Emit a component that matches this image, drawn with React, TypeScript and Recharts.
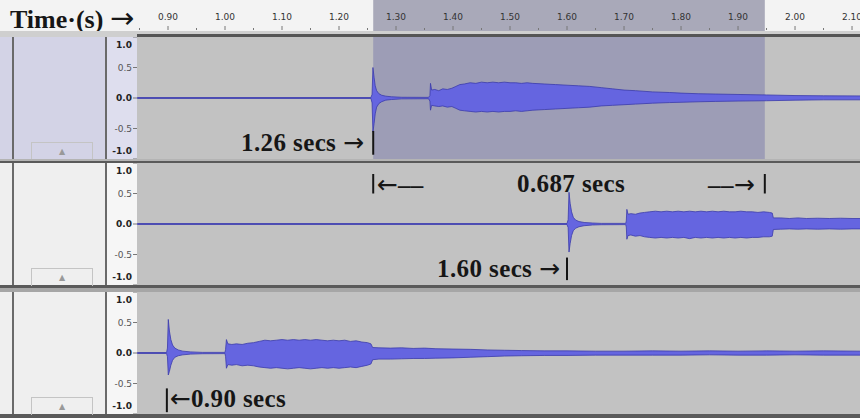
import { ComposedChart, Area, XAxis, YAxis, ReferenceArea, ReferenceLine } from 'recharts';

// visible time window of the screenshot (seconds)
const T_MIN = 0.8456;
const T_MAX = 2.114;

const rulerTicks = [
  0.85, 0.9, 0.95, 1.0, 1.05, 1.1, 1.15, 1.2, 1.25, 1.3, 1.35, 1.4, 1.45, 1.5, 1.55,
  1.6, 1.65, 1.7, 1.75, 1.8, 1.85, 1.9, 1.95, 2.0, 2.05, 2.1,
];
const ampTicks = [-1, -0.5, 0, 0.5, 1];

// selected region on the top track: 1.26 s .. 1.947 s (0.687 s)
const selection = [1.26, 1.947];

// waveform envelopes: [time, upper peak, lower peak]
const track1Envelope: [number, number, number][] = [
  [0.846, 0.008, -0.008], [1.256, 0.008, -0.008], [1.258, 0.06, -0.08], [1.2595, 0.5, -0.56],
  [1.2615, 0.34, -0.42], [1.2635, 0.2, -0.26], [1.266, 0.12, -0.15], [1.27, 0.07, -0.09],
  [1.275, 0.045, -0.06], [1.282, 0.03, -0.035], [1.292, 0.02, -0.025], [1.31, 0.012, -0.014],
  [1.357, 0.01, -0.012], [1.3595, 0.04, -0.05], [1.3605, 0.24, -0.2], [1.3625, 0.13, -0.12],
  [1.368, 0.14, -0.13], [1.375, 0.12, -0.14], [1.382, 0.15, -0.13], [1.39, 0.14, -0.15],
  [1.398, 0.16, -0.14], [1.405, 0.19, -0.17], [1.412, 0.22, -0.2], [1.42, 0.23, -0.21],
  [1.43, 0.25, -0.22], [1.44, 0.24, -0.23], [1.45, 0.26, -0.22], [1.46, 0.25, -0.23],
  [1.47, 0.26, -0.22], [1.48, 0.25, -0.23], [1.49, 0.26, -0.22], [1.5, 0.25, -0.22],
  [1.51, 0.25, -0.21], [1.52, 0.24, -0.22], [1.53, 0.25, -0.21], [1.54, 0.24, -0.2],
  [1.56, 0.23, -0.19], [1.58, 0.22, -0.18], [1.6, 0.21, -0.17], [1.62, 0.2, -0.16],
  [1.64, 0.19, -0.15], [1.66, 0.17, -0.13], [1.68, 0.15, -0.12], [1.7, 0.13, -0.11],
  [1.72, 0.12, -0.1], [1.75, 0.1, -0.085], [1.78, 0.09, -0.075], [1.8, 0.08, -0.07],
  [1.83, 0.07, -0.062], [1.86, 0.065, -0.056], [1.9, 0.058, -0.05], [1.95, 0.05, -0.045],
  [2.0, 0.04, -0.036], [2.05, 0.036, -0.03], [2.114, 0.034, -0.03],
];

const track2Envelope: [number, number, number][] = [
  [0.846, 0.008, -0.008], [1.6, 0.008, -0.008], [1.602, 0.07, -0.06], [1.6035, 0.52, -0.46],
  [1.6055, 0.34, -0.32], [1.608, 0.2, -0.19], [1.611, 0.11, -0.11], [1.615, 0.065, -0.07],
  [1.621, 0.04, -0.045], [1.63, 0.025, -0.028], [1.645, 0.016, -0.016], [1.66, 0.01, -0.012],
  [1.703, 0.01, -0.01], [1.704, 0.05, -0.05], [1.705, 0.24, -0.25], [1.707, 0.16, -0.19],
  [1.712, 0.17, -0.18], [1.72, 0.16, -0.2], [1.728, 0.18, -0.19], [1.736, 0.19, -0.21],
  [1.745, 0.2, -0.22], [1.755, 0.21, -0.23], [1.765, 0.2, -0.22], [1.775, 0.21, -0.23],
  [1.785, 0.2, -0.22], [1.795, 0.21, -0.23], [1.805, 0.2, -0.22], [1.815, 0.21, -0.24],
  [1.825, 0.2, -0.22], [1.835, 0.21, -0.23], [1.845, 0.2, -0.22], [1.855, 0.21, -0.23],
  [1.865, 0.2, -0.22], [1.875, 0.21, -0.23], [1.885, 0.2, -0.22], [1.895, 0.2, -0.23],
  [1.905, 0.21, -0.22], [1.915, 0.2, -0.23], [1.925, 0.2, -0.22], [1.935, 0.19, -0.22],
  [1.945, 0.2, -0.21], [1.955, 0.19, -0.21], [1.96, 0.18, -0.2], [1.962, 0.1, -0.09],
  [1.975, 0.1, -0.085], [1.99, 0.09, -0.08], [2.005, 0.1, -0.085], [2.02, 0.09, -0.08],
  [2.04, 0.095, -0.085], [2.06, 0.09, -0.08], [2.08, 0.095, -0.085], [2.1, 0.09, -0.08],
  [2.114, 0.09, -0.08],
];

const track3Envelope: [number, number, number][] = [
  [0.846, 0.008, -0.008], [0.8975, 0.008, -0.008], [0.899, 0.08, -0.06], [0.9005, 0.55, -0.36],
  [0.9025, 0.36, -0.3], [0.905, 0.22, -0.2], [0.908, 0.13, -0.12], [0.912, 0.08, -0.07],
  [0.918, 0.05, -0.045], [0.926, 0.03, -0.03], [0.94, 0.018, -0.018], [0.96, 0.01, -0.012],
  [1.0, 0.01, -0.01], [1.001, 0.06, -0.06], [1.0025, 0.22, -0.25], [1.005, 0.15, -0.19],
  [1.012, 0.14, -0.2], [1.02, 0.15, -0.19], [1.03, 0.14, -0.21], [1.04, 0.16, -0.2],
  [1.05, 0.17, -0.21], [1.06, 0.19, -0.23], [1.07, 0.21, -0.24], [1.08, 0.2, -0.25],
  [1.09, 0.21, -0.24], [1.1, 0.22, -0.25], [1.11, 0.21, -0.26], [1.12, 0.22, -0.25],
  [1.13, 0.21, -0.24], [1.14, 0.22, -0.25], [1.15, 0.21, -0.26], [1.16, 0.22, -0.25],
  [1.17, 0.21, -0.24], [1.18, 0.2, -0.25], [1.19, 0.21, -0.24], [1.2, 0.2, -0.25],
  [1.21, 0.21, -0.24], [1.22, 0.19, -0.23], [1.23, 0.2, -0.24], [1.24, 0.18, -0.22],
  [1.25, 0.17, -0.2], [1.256, 0.15, -0.18], [1.259, 0.09, -0.11], [1.27, 0.085, -0.1],
  [1.29, 0.08, -0.1], [1.31, 0.085, -0.095], [1.33, 0.075, -0.09], [1.35, 0.08, -0.09],
  [1.37, 0.07, -0.085], [1.4, 0.065, -0.08], [1.43, 0.06, -0.07], [1.46, 0.05, -0.06],
  [1.49, 0.045, -0.05], [1.52, 0.04, -0.045], [1.56, 0.035, -0.04], [1.6, 0.035, -0.04],
  [1.65, 0.03, -0.035], [1.7, 0.03, -0.035], [1.75, 0.035, -0.035], [1.8, 0.03, -0.035],
  [1.85, 0.035, -0.03], [1.9, 0.03, -0.035], [1.95, 0.035, -0.035], [2.0, 0.03, -0.03],
  [2.05, 0.035, -0.035], [2.114, 0.03, -0.035],
];

const PLOT_BG = '#c2c2c2';
const SEL_BG = '#9d9db6';
const WAVE_FILL = '#6565e0';
const WAVE_EDGE = '#3b3bab';
const SERIF = "'Liberation Serif', 'DejaVu Serif', serif";
const SANS = "'DejaVu Sans', 'Liberation Sans', sans-serif";

function toData(env: [number, number, number][]) {
  return env.map(([t, hi, lo]) => ({ t, amp: [lo, hi] }));
}

function AmpTick(props: any) {
  const { x, y, payload } = props;
  const v = payload.value;
  // audacity pushes the end labels inside the track
  const nudge = v === 1 ? 8 : v === -1 ? -8 : 0;
  const major = v === 1 || v === -1 || v === 0;
  return (
    <text
      x={x}
      y={y + nudge}
      textAnchor="end"
      dominantBaseline="central"
      fontSize={9}
      fontFamily={SANS}
      fontWeight={major ? 'bold' : 'normal'}
      fill={major ? '#222' : '#555'}
    >
      {v.toFixed(1)}
    </text>
  );
}

function RulerTick(props: any) {
  const { x, payload } = props;
  const v = payload.value;
  const major = Math.round(v * 100) % 10 === 0;
  return (
    <g>
      <line x1={x} x2={x} y1={major ? 26 : 28} y2={30} stroke="#777" />
      {major && (
        <text x={x} y={17} textAnchor="middle" dominantBaseline="central" fontSize={9} fontFamily={SANS} fill="#333">
          {v.toFixed(2)}
        </text>
      )}
    </g>
  );
}

type Marker = { t: number; y1: number; y2: number };

function Track({ env, top, height, selected, markers }: { env: [number, number, number][]; top: number; height: number; selected?: boolean; markers: Marker[] }) {
  const data = toData(env);
  const panel = selected ? '#d3d3e6' : '#efefef';
  const strip = selected ? '#dedeee' : '#f6f6f6';
  return (
    <div style={{ position: 'absolute', left: 0, top, width: 860, height }}>
      <div style={{ position: 'absolute', left: 0, top: 0, width: 12, height, background: panel }} />
      <div style={{ position: 'absolute', left: 12, top: 0, width: 2, height, background: '#6a6a6a' }} />
      <div style={{ position: 'absolute', left: 14, top: 0, width: 91, height, background: panel }} />
      <div style={{ position: 'absolute', left: 105, top: 0, width: 2, height, background: '#6a6a6a' }} />
      <div style={{ position: 'absolute', left: 107, top: 0, width: 30, height, background: strip }} />
      <div style={{ position: 'absolute', left: 137, top: 0, width: 723, height, background: PLOT_BG }} />
      <div
        style={{
          position: 'absolute', left: 31, top: height - 17, width: 60, height: 17,
          borderTop: '1px solid #c4c4c4', borderLeft: '1px solid #c4c4c4', borderRight: '1px solid #c4c4c4',
          color: '#999', fontSize: 8, fontFamily: SANS, textAlign: 'center', lineHeight: '17px',
        }}
      >
        ▲
      </div>
      <ComposedChart width={860} height={height} data={data} margin={{ top: 0, right: 0, bottom: 0, left: 105 }}>
        <XAxis type="number" dataKey="t" domain={[T_MIN, T_MAX]} allowDataOverflow hide />
        <YAxis
          type="number"
          domain={[-1, 1]}
          ticks={ampTicks}
          interval={0}
          width={32}
          tick={<AmpTick />}
          tickSize={4}
          tickMargin={1}
          tickLine={{ stroke: '#777' }}
          axisLine={false}
          allowDataOverflow
        />
        {selected && (
          <ReferenceArea x1={selection[0]} x2={selection[1]} y1={-1} y2={1} fill={SEL_BG} fillOpacity={1} stroke="none" />
        )}
        <Area
          type="linear"
          dataKey="amp"
          fill={WAVE_FILL}
          fillOpacity={1}
          stroke={WAVE_EDGE}
          strokeWidth={0.8}
          dot={false}
          activeDot={false}
          isAnimationActive={false}
        />
        {markers.map((m, i) => (
          <ReferenceLine
            key={i}
            segment={[{ x: m.t, y: m.y1 }, { x: m.t, y: m.y2 }]}
            stroke="#151515"
            strokeWidth={2}
          />
        ))}
      </ComposedChart>
    </div>
  );
}

const note: React.CSSProperties = {
  position: 'absolute',
  fontFamily: SERIF,
  fontWeight: 'bold',
  fontSize: 25,
  letterSpacing: 0.4,
  lineHeight: 1,
  color: '#161616',
  whiteSpace: 'nowrap',
};

// thin arrow glyphs like the ones pasted into the screenshot
function Arrow({ dir, size = 25 }: { dir: 'left' | 'right'; size?: number }) {
  return (
    <span style={{ fontFamily: SANS, fontWeight: 'normal', fontSize: size, letterSpacing: 0 }}>
      {dir === 'left' ? '←' : '→'}
    </span>
  );
}

export default function App() {
  const rulerData = rulerTicks.map((t) => ({ t, v: 0 }));
  return (
    <div style={{ position: 'fixed', left: 0, top: 0, width: 860, height: 418, background: '#5a5a5a', overflow: 'hidden' }}>
      {/* time ruler */}
      <div style={{ position: 'absolute', left: 0, top: 0, width: 860, height: 33, background: '#f3f3f3' }} />
      <div style={{ position: 'absolute', left: 0, top: 0, width: 860, height: 33 }}>
        <ComposedChart width={860} height={33} data={rulerData} margin={{ top: 0, right: 0, bottom: 0, left: 137 }}>
          <XAxis
            type="number"
            dataKey="t"
            domain={[T_MIN, T_MAX]}
            allowDataOverflow
            ticks={rulerTicks}
            interval={0}
            height={2}
            tick={<RulerTick />}
            tickLine={false}
            axisLine={false}
          />
          <YAxis hide type="number" domain={[0, 1]} />
          <ReferenceArea x1={selection[0]} x2={selection[1]} y1={0} y2={1} fill="#a9a9b9" fillOpacity={1} stroke="none" />
          <Area dataKey="v" stroke="none" fill="none" dot={false} activeDot={false} isAnimationActive={false} />
        </ComposedChart>
      </div>
      <div style={{ ...note, left: 10, top: 4, fontSize: 26, letterSpacing: 0 }}>
        Time·(s) <Arrow dir="right" size={29} />
      </div>
      <div style={{ position: 'absolute', left: 0, top: 31, width: 860, height: 6, background: '#cfcfcf' }} />
      <div style={{ position: 'absolute', left: 137, top: 34, width: 723, height: 3, background: '#555' }} />

      <Track env={track1Envelope} top={37} height={122} selected markers={[{ t: 1.26, y1: -0.54, y2: -0.93 }]} />
      <div style={{ position: 'absolute', left: 0, top: 159, width: 860, height: 2, background: '#b4b4b4' }} />

      <Track
        env={track2Envelope}
        top={163}
        height={122}
        markers={[
          { t: 1.26, y1: 0.82, y2: 0.5 },
          { t: 1.947, y1: 0.82, y2: 0.5 },
          { t: 1.6, y1: -0.55, y2: -0.92 },
        ]}
      />
      <div style={{ position: 'absolute', left: 0, top: 288, width: 860, height: 4, background: '#a6a6a6' }} />

      <Track env={track3Envelope} top={292} height={122} markers={[{ t: 0.898, y1: -0.58, y2: -0.97 }]} />

      <div style={{ ...note, left: 241, top: 130 }}>
        1.26 secs <Arrow dir="right" />
      </div>
      <div style={{ ...note, left: 377, top: 172 }}>
        <Arrow dir="left" />––
      </div>
      <div style={{ ...note, left: 517, top: 171 }}>0.687 secs</div>
      <div style={{ ...note, left: 708, top: 172 }}>
        ––<Arrow dir="right" />
      </div>
      <div style={{ ...note, left: 437, top: 256 }}>
        1.60 secs <Arrow dir="right" />
      </div>
      <div style={{ ...note, left: 170, top: 386 }}>
        <Arrow dir="left" />0.90 secs
      </div>
    </div>
  );
}
